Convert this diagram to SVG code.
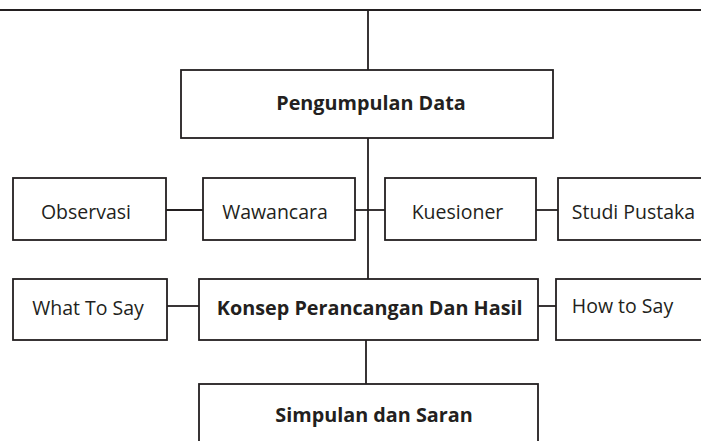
<svg xmlns="http://www.w3.org/2000/svg" width="701" height="441" viewBox="0 0 701 441">
<style>
.box{fill:#fff;stroke:#231f20;stroke-width:1.8}
.ln{fill:none;stroke:#231f20;stroke-width:1.8}
.t{font-family:"Open Sans","Noto Sans","Liberation Sans",sans-serif;font-size:19.5px;fill:#231f20;text-anchor:middle}
.b{font-weight:bold;font-size:19.8px}
</style>
<rect width="701" height="441" fill="#fff"/>
<g id="connectors">
<line class="ln" x1="0" y1="10" x2="701" y2="10"/>
<line class="ln" x1="368" y1="10" x2="368" y2="70"/>
<line class="ln" x1="368" y1="138" x2="368" y2="279"/>
<line class="ln" x1="166" y1="210" x2="203" y2="210"/>
<line class="ln" x1="355" y1="210" x2="385" y2="210"/>
<line class="ln" x1="536" y1="210" x2="558" y2="210"/>
<line class="ln" x1="167" y1="306" x2="199" y2="306"/>
<line class="ln" x1="538" y1="306" x2="556" y2="306"/>
<line class="ln" x1="366" y1="340" x2="366" y2="384"/>
</g>
<g id="pengumpulan">
<rect class="box" x="181" y="70" width="372" height="68"/>
<text class="t b" x="371" y="110">Pengumpulan Data</text>
</g>
<g id="observasi">
<rect class="box" x="13" y="178" width="153" height="62"/>
<text class="t" x="86" y="219">Observasi</text>
</g>
<g id="wawancara">
<rect class="box" x="203" y="178" width="152" height="62"/>
<text class="t" x="275" y="219">Wawancara</text>
</g>
<g id="kuesioner">
<rect class="box" x="385" y="178" width="151" height="62"/>
<text class="t" x="457.5" y="219">Kuesioner</text>
</g>
<g id="studi">
<rect class="box" x="558" y="178" width="160" height="62"/>
<text class="t" x="633.5" y="218.5">Studi Pustaka</text>
</g>
<g id="whattosay">
<rect class="box" x="13" y="279" width="154" height="61"/>
<text class="t" x="88" y="315">What To Say</text>
</g>
<g id="konsep">
<rect class="box" x="199" y="279" width="339" height="61"/>
<text class="t b" x="369.7" y="315">Konsep Perancangan Dan Hasil</text>
</g>
<g id="howtosay">
<rect class="box" x="556" y="279" width="160" height="61"/>
<text class="t" x="622.5" y="313">How to Say</text>
</g>
<g id="simpulan">
<rect class="box" x="199" y="384" width="339" height="70"/>
<text class="t b" x="374" y="421.7">Simpulan dan Saran</text>
</g>
</svg>
